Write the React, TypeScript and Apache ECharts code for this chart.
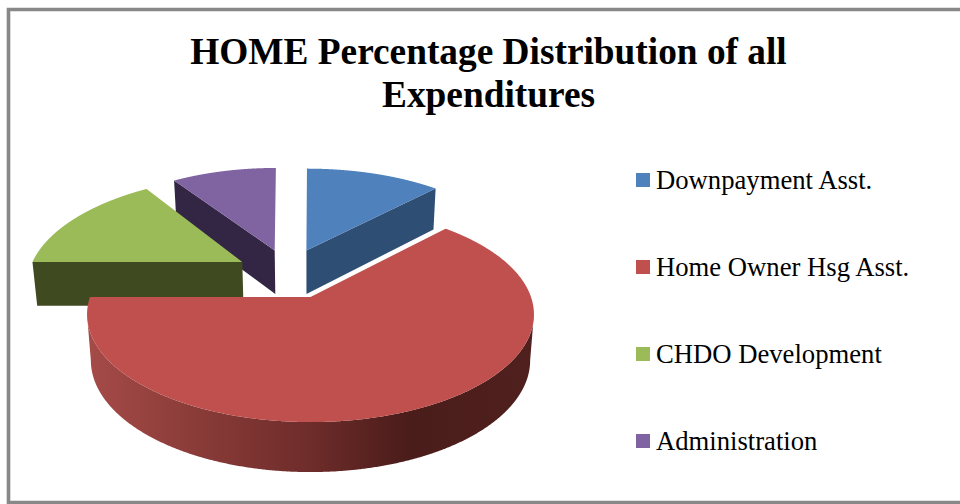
import React, { useEffect, useRef } from "react";
import * as echarts from "echarts";

const titleLines = ["HOME Percentage Distribution of all", "Expenditures"];
const categories = ["Downpayment Asst.", "Home Owner Hsg Asst.", "CHDO Development", "Administration"];
const shares = [12, 63, 15.5, 9.5];
const topColors = ["#4f81bd", "#c0504d", "#9bbb59", "#8064a2"];
const sideColors = ["#2f4e73", "", "#404a20", "#322644"];

// Exploded position of each slice's apex on the pie plane, in radii.
const apexOffsets = [
  [-0.02, -0.478],
  [0, 0],
  [-0.327, -0.353],
  [-0.175, -0.478],
];
// Horizontal and depth stretch of each slice's radius.
const radiusStretch = [
  [1.025, 1.05],
  [1, 1],
  [1.006, 1.07],
  [1, 1.06],
];
// Sideways lean of each slice's rim.
const rimLean = [0, 0, 0, 0.021];
// Which radial wall of each slice faces the viewer.
const visibleWall = ["end", "arc", "start", "start"];

const CENTER_X = 310.5;
const RADIUS = 220.5;
const PERSPECTIVE = 0.162;
const HORIZON_Y = -350;
const HORIZON_SPAN = 647;

const total = shares.reduce((a, b) => a + b, 0);
const startAngles = shares.map((_, i) => (shares.slice(0, i).reduce((a, b) => a + b, 0) / total) * 360);

// Plane coordinates (X right, Z toward the viewer) to screen, on the top face.
function project(X: number, Z: number): number[] {
  const w = 1 - PERSPECTIVE * Z;
  return [CENTER_X + (RADIUS * X) / w, HORIZON_Y + HORIZON_SPAN / w];
}

// The same point on the bottom face of the extruded pie.
function drop(p: number[]): number[] {
  return [CENTER_X + (p[0] - CENTER_X) * 0.983, p[1] + 33.75 + 0.0385 * p[1]];
}

function arcPoint(i: number, deg: number): number[] {
  const a = (deg * Math.PI) / 180;
  const [ox, oz] = apexOffsets[i];
  const [sx, sz] = radiusStretch[i];
  return project(ox + sx * Math.sin(a) - rimLean[i] * Math.cos(a), oz - sz * Math.cos(a));
}

function renderSlice(i: number) {
  return (_params: any, api: any) => {
    const sweep = (api.value(0) / total) * 360;
    const start = startAngles[i];
    const end = start + sweep;
    const apex = project(apexOffsets[i][0], apexOffsets[i][1]);
    const rim: number[][] = [];
    for (let d = 0; d <= 720; d++) rim.push(arcPoint(i, start + (sweep * d) / 720));

    const children: any[] = [];
    if (visibleWall[i] === "arc") {
      // The outer wall shows only between the rim's widest points.
      const xs = rim.map((p) => p[0]);
      const front = rim.slice(xs.indexOf(Math.max(...xs)), xs.indexOf(Math.min(...xs)) + 1);
      children.push({
        type: "polygon",
        shape: { points: [...front, ...front.map(drop).reverse()] },
        style: {
          fill: new echarts.graphic.LinearGradient(0, 0, 1, 0, [
            { offset: 0, color: "#a54b48" },
            { offset: 0.25, color: "#893b38" },
            { offset: 0.5, color: "#6e2c2a" },
            { offset: 0.72, color: "#4a1c1a" },
            { offset: 1, color: "#4f201e" },
          ]),
        },
      });
    } else {
      const edge = arcPoint(i, visibleWall[i] === "end" ? end : start);
      children.push({
        type: "polygon",
        shape: { points: [apex, edge, drop(edge), drop(apex)] },
        style: { fill: sideColors[i] },
      });
    }
    children.push({
      type: "polygon",
      shape: { points: [apex, ...rim] },
      style: { fill: topColors[i] },
    });
    return { type: "group", children };
  };
}

// Painter's order: the farther slices first, the large front slice last.
const paintOrder = [3, 2, 0, 1];

export default function App() {
  const ref = useRef<HTMLDivElement>(null);

  useEffect(() => {
    document.body.style.margin = "0";
    const chart = echarts.init(ref.current!, undefined, { renderer: "svg" });
    chart.setOption({
      animation: false,
      backgroundColor: "#ffffff",
      title: {
        text: titleLines.join("\n"),
        left: 483.5,
        top: 25,
        textAlign: "center",
        textStyle: {
          fontFamily: "Liberation Serif",
          fontWeight: "bold",
          fontSize: 37.33,
          lineHeight: 43,
          color: "#000000",
        },
      },
      legend: {
        data: categories,
        orient: "vertical",
        left: 631,
        top: 161.5,
        icon: "rect",
        itemWidth: 14,
        itemHeight: 14,
        itemGap: 60,
        textStyle: {
          fontFamily: "Liberation Serif",
          fontSize: 26.67,
          color: "#000000",
          padding: [0, 0, 0, 1],
        },
      },
      graphic: [
        {
          type: "rect",
          silent: true,
          shape: { x: 8.5, y: 9.5, width: 980, height: 493 },
          style: { fill: "none", stroke: "#888888", lineWidth: 3.6 },
        },
      ],
      series: paintOrder.map((i) => ({
        type: "custom",
        name: categories[i],
        coordinateSystem: "none",
        itemStyle: { color: topColors[i] },
        data: [[shares[i]]],
        z: 2,
        silent: true,
        renderItem: renderSlice(i),
      })),
    });
    return () => chart.dispose();
  }, []);

  return <div ref={ref} style={{ width: 960, height: 504 }} />;
}
